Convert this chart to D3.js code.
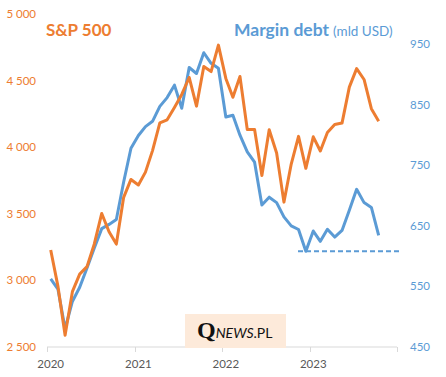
<!DOCTYPE html>
<html><head><meta charset="utf-8">
<script src="https://cdn.jsdelivr.net/npm/d3@7"></script>
<style>
html,body{margin:0;padding:0;background:#fff;}
svg{display:block;}
</style></head>
<body>
<svg id="chart" width="446" height="377"></svg>
<script>
const months = ["2020-01","2020-02","2020-03","2020-04","2020-05","2020-06","2020-07","2020-08","2020-09","2020-10","2020-11","2020-12",
"2021-01","2021-02","2021-03","2021-04","2021-05","2021-06","2021-07","2021-08","2021-09","2021-10","2021-11","2021-12",
"2022-01","2022-02","2022-03","2022-04","2022-05","2022-06","2022-07","2022-08","2022-09","2022-10","2022-11","2022-12",
"2023-01","2023-02","2023-03","2023-04","2023-05","2023-06","2023-07","2023-08","2023-09","2023-10"];
const sp500 = [3225.5,2954.2,2584.6,2912.4,3044.3,3100.3,3271.1,3500.3,3363.0,3270.0,3621.6,3756.1,
3714.2,3811.2,3972.9,4181.2,4204.1,4297.5,4395.3,4522.7,4307.5,4605.4,4567.0,4766.2,
4515.6,4373.9,4530.4,4131.9,4132.2,3785.4,4130.3,3955.0,3585.6,3872.0,4080.1,3839.5,
4076.6,3970.2,4109.3,4169.5,4179.8,4450.4,4589.0,4507.7,4288.1,4193.8];
const marginDebt = [561.8,545.1,479.3,524.5,548,580,613,645,652,660,722,778,
799,813.7,822.5,847.2,861.7,882.3,844.1,911.5,901.6,935.9,918.4,910.1,
829.7,832.6,799.6,772.1,754.9,684,697,688,664.5,649.5,643.5,607.5,
641,624,644,631,642,675.5,710,688,680,634];
const yearLabels = ["2020","2021","2022","2023"];
const yearTicks = ["2020","2021","2022","2023","2024"];
const leftTicks = [2500,3000,3500,4000,4500,5000];
const rightTicks = [450,550,650,750,850,950];
const marginLow = 607.5;

const ORANGE = "#ED7D31", BLUE = "#5B9BD5";
const svg = d3.select("#chart");
const parse = d3.timeParse("%Y-%m");
const fmt = d3.formatLocale({decimal:",",thousands:" ",grouping:[3],currency:["",""]}).format(",d");

const x = d3.scaleTime().domain([parse("2020-01"), parse("2024-01")]).range([47, 397]);
const yL = d3.scaleLinear().domain([2500, 5000]).range([346.5, 14]);
const yR = d3.scaleLinear().domain([450, 1000]).range([346.5, 14]);
const xm = m => { const d = parse(m); const n = d3.timeMonth.offset(d, 1); return (x(d) + x(n)) / 2; };

// x axis
svg.append("line").attr("x1", 47).attr("x2", 397).attr("y1", 347).attr("y2", 347)
  .attr("stroke", "#D9D9D9").attr("stroke-width", 1);
svg.selectAll(".xt").data(yearTicks).join("line")
  .attr("x1", d => Math.round(x(parse(d + "-01"))) + 0.5).attr("x2", d => Math.round(x(parse(d + "-01"))) + 0.5)
  .attr("y1", 347).attr("y2", 352).attr("stroke", "#D9D9D9");
svg.selectAll(".xl").data(yearLabels).join("text")
  .attr("x", d => xm(d + "-01")).attr("y", 368).attr("text-anchor", "middle")
  .attr("font-family", "Lato, sans-serif").attr("font-size", 11.5).attr("fill", "#595959").text(d => d);

// left axis labels
svg.selectAll(".yl").data(leftTicks).join("text")
  .attr("x", 36).attr("y", d => yL(d)).attr("dy", "0.35em").attr("text-anchor", "end")
  .attr("font-family", "Lato, sans-serif").attr("font-size", 11.5).attr("fill", ORANGE).text(d => fmt(d));
// right axis labels
svg.selectAll(".yr").data(rightTicks).join("text")
  .attr("x", 410).attr("y", d => yR(d)).attr("dy", "0.35em").attr("text-anchor", "start")
  .attr("font-family", "Lato, sans-serif").attr("font-size", 11.5).attr("fill", BLUE).text(d => d);

// dashed low line
svg.append("line").attr("x1", 298).attr("x2", 399).attr("y1", yR(marginLow)).attr("y2", yR(marginLow))
  .attr("stroke", BLUE).attr("stroke-width", 2).attr("stroke-dasharray", "5,3");

// watermark box
svg.append("rect").attr("x", 185).attr("y", 314).attr("width", 101).attr("height", 34).attr("fill", "#FDEADA");
const wm = svg.append("text").attr("x", 197).attr("y", 338).attr("fill", "#111");
wm.append("tspan").attr("font-family", "Liberation Serif, serif").attr("font-weight", "bold").attr("font-size", 24).text("Q");
wm.append("tspan").attr("font-family", "Lato, sans-serif").attr("font-style", "italic").attr("font-size", 14).text("NEWS");
wm.append("tspan").attr("font-family", "Lato, sans-serif").attr("font-size", 14).text(".PL");

// lines
const lineR = d3.line().x((d, i) => xm(months[i])).y(d => yR(d));
const lineL = d3.line().x((d, i) => xm(months[i])).y(d => yL(d));
svg.append("path").datum(marginDebt).attr("d", lineR).attr("fill", "none")
  .attr("stroke", BLUE).attr("stroke-width", 3).attr("stroke-linejoin", "round");
svg.append("path").datum(sp500).attr("d", lineL).attr("fill", "none")
  .attr("stroke", ORANGE).attr("stroke-width", 3).attr("stroke-linejoin", "round");

// titles
svg.append("text").attr("x", 46).attr("y", 36).attr("font-family", "Lato, sans-serif")
  .attr("font-weight", "bold").attr("font-size", 17).attr("fill", ORANGE).text("S&P 500");
const t2 = svg.append("text").attr("x", 234).attr("y", 36).attr("font-family", "Lato, sans-serif").attr("fill", BLUE);
t2.append("tspan").attr("font-weight", "bold").attr("font-size", 17.5).text("Margin debt");
t2.append("tspan").attr("font-size", 13.5).attr("dx", 4).text("(mld USD)");
</script>
</body></html>
